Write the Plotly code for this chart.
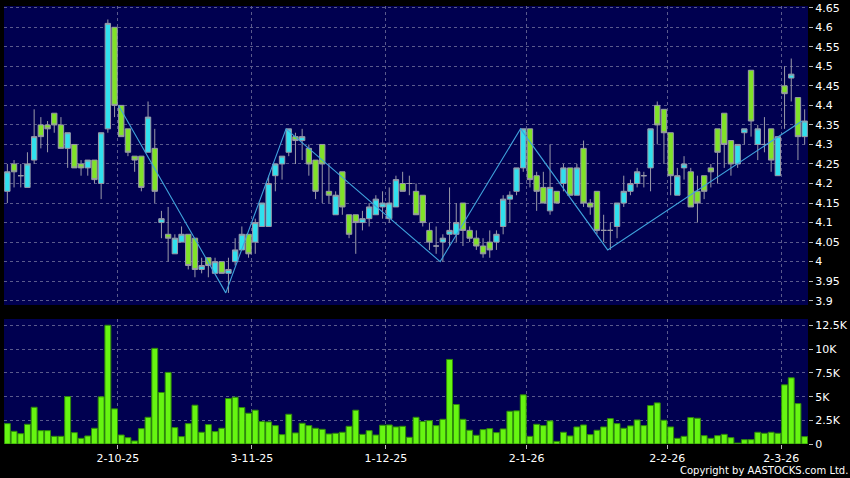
import plotly.graph_objects as go

# ---- data (index = trading day, 0..119) ----
opens = [4.18, 4.25, 4.22, 4.19, 4.26, 4.35, 4.35, 4.38, 4.35, 4.29,
         4.30, 4.25, 4.24, 4.26, 4.20, 4.34, 4.60, 4.40, 4.34, 4.27,
         4.27, 4.28, 4.29, 4.10, 4.07, 4.02, 4.05, 4.07, 4.06, 3.98,
         4.01, 3.97, 4.00, 3.97, 4.00, 4.03, 4.07, 4.05, 4.09, 4.09,
         4.22, 4.25, 4.28, 4.32, 4.31, 4.29, 4.26, 4.30, 4.18, 4.12,
         4.23, 4.12, 4.12, 4.10, 4.11, 4.12, 4.14, 4.11, 4.14, 4.20,
         4.20, 4.18, 4.17, 4.08, 4.04, 4.05, 4.07, 4.07, 4.15, 4.08,
         4.06, 4.04, 4.05, 4.05, 4.09, 4.16, 4.18, 4.24, 4.34, 4.22,
         4.19, 4.13, 4.18, 4.20, 4.24, 4.17, 4.29, 4.15, 4.18, 4.08,
         4.08, 4.09, 4.15, 4.18, 4.20, 4.22, 4.24, 4.40, 4.39, 4.33,
         4.17, 4.24, 4.23, 4.18, 4.22, 4.24, 4.34, 4.38, 4.31, 4.25,
         4.33, 4.49, 4.30, 4.30, 4.34, 4.22, 4.45, 4.47, 4.42, 4.32]
highs = [4.25, 4.26, 4.25, 4.28, 4.39, 4.37, 4.36, 4.38, 4.37, 4.33,
         4.30, 4.26, 4.26, 4.26, 4.33, 4.62, 4.60, 4.40, 4.34, 4.27,
         4.27, 4.41, 4.34, 4.13, 4.14, 4.07, 4.09, 4.07, 4.06, 4.01,
         4.01, 4.01, 4.00, 4.01, 4.06, 4.09, 4.07, 4.11, 4.15, 4.22,
         4.25, 4.27, 4.34, 4.33, 4.34, 4.30, 4.26, 4.30, 4.25, 4.18,
         4.23, 4.12, 4.12, 4.13, 4.15, 4.17, 4.18, 4.19, 4.22, 4.23,
         4.22, 4.20, 4.17, 4.10, 4.09, 4.07, 4.19, 4.15, 4.15, 4.09,
         4.08, 4.06, 4.08, 4.08, 4.17, 4.18, 4.24, 4.34, 4.34, 4.23,
         4.23, 4.30, 4.18, 4.25, 4.24, 4.25, 4.31, 4.16, 4.18, 4.12,
         4.10, 4.15, 4.22, 4.21, 4.24, 4.23, 4.34, 4.41, 4.39, 4.33,
         4.24, 4.27, 4.24, 4.22, 4.22, 4.25, 4.34, 4.38, 4.31, 4.30,
         4.34, 4.49, 4.35, 4.37, 4.34, 4.32, 4.50, 4.52, 4.42, 4.39]
lows = [4.15, 4.19, 4.19, 4.19, 4.25, 4.29, 4.28, 4.33, 4.29, 4.24,
        4.24, 4.22, 4.22, 4.20, 4.16, 4.33, 4.37, 4.32, 4.27, 4.23,
        4.18, 4.28, 4.15, 4.06, 4.00, 4.02, 4.05, 3.98, 3.96, 3.97,
        3.96, 3.97, 3.97, 3.92, 3.99, 4.03, 4.01, 4.02, 4.09, 4.09,
        4.18, 4.21, 4.27, 4.25, 4.26, 4.22, 4.16, 4.15, 4.15, 4.12,
        4.12, 4.06, 4.02, 4.08, 4.09, 4.12, 4.11, 4.10, 4.14, 4.18,
        4.17, 4.12, 4.09, 4.03, 4.02, 4.00, 4.04, 4.05, 4.04, 4.05,
        4.03, 4.01, 4.01, 4.03, 4.07, 4.10, 4.17, 4.23, 4.19, 4.13,
        4.15, 4.12, 4.15, 4.18, 4.17, 4.17, 4.14, 4.12, 4.07, 4.05,
        4.03, 4.06, 4.14, 4.17, 4.19, 4.19, 4.18, 4.30, 4.25, 4.17,
        4.17, 4.21, 4.14, 4.10, 4.16, 4.19, 4.20, 4.24, 4.22, 4.24,
        4.30, 4.32, 4.26, 4.28, 4.23, 4.22, 4.34, 4.41, 4.26, 4.30]
closes = [4.23, 4.23, 4.22, 4.25, 4.32, 4.32, 4.34, 4.35, 4.29, 4.33,
          4.24, 4.24, 4.26, 4.21, 4.33, 4.61, 4.40, 4.32, 4.28, 4.26,
          4.19, 4.37, 4.18, 4.11, 4.06, 4.06, 4.07, 3.99, 3.98, 3.99,
          3.99, 4.00, 3.97, 3.98, 4.03, 4.07, 4.02, 4.10, 4.15, 4.20,
          4.25, 4.27, 4.34, 4.31, 4.32, 4.25, 4.18, 4.25, 4.17, 4.17,
          4.14, 4.07, 4.10, 4.11, 4.14, 4.16, 4.15, 4.15, 4.21, 4.18,
          4.20, 4.12, 4.10, 4.05, 4.04, 4.06, 4.08, 4.10, 4.08, 4.06,
          4.04, 4.02, 4.03, 4.07, 4.16, 4.17, 4.24, 4.34, 4.21, 4.18,
          4.15, 4.19, 4.15, 4.24, 4.17, 4.24, 4.15, 4.14, 4.08, 4.08,
          4.08, 4.15, 4.18, 4.20, 4.23, 4.22, 4.34, 4.35, 4.33, 4.22,
          4.22, 4.25, 4.14, 4.15, 4.18, 4.23, 4.28, 4.30, 4.25, 4.30,
          4.34, 4.36, 4.34, 4.30, 4.26, 4.32, 4.43, 4.48, 4.32, 4.36]
volumes = [2150, 1340, 1090, 2080, 3880, 1410, 1410, 810, 810, 5010,
           1200, 600, 850, 1660, 4980, 12540, 3710, 950, 670, 320,
           1620, 2820, 10100, 5440, 7560, 1730, 780, 2150, 4100, 1240,
           2050, 1310, 1660, 4800, 4940, 3850, 3250, 3570, 2370, 2330,
           1940, 990, 3140, 1170, 2190, 1940, 1660, 1550, 1060, 1130,
           1240, 1870, 3570, 1020, 1410, 950, 1980, 2010, 1800, 1870,
           710, 2820, 2370, 2470, 1940, 2610, 8930, 4170, 2610, 1450,
           920, 1520, 1620, 1200, 1590, 3460, 3500, 5190, 810, 2080,
           1940, 2440, 280, 1240, 850, 1800, 2010, 990, 1450, 1800,
           2680, 2150, 1660, 1910, 2540, 1940, 4060, 4340, 2510, 1800,
           600, 810, 2790, 2720, 880, 600, 880, 1020, 670, 100,
           460, 460, 1240, 1130, 1240, 1130, 6250, 6990, 4270, 780]
day_index = list(range(len(closes)))

date_tick_index = [16, 36, 56, 77, 98, 115]
date_tick_labels = ["2-10-25", "3-11-25", "1-12-25", "2-1-26", "2-2-26", "2-3-26"]

zigzag_index = [17, 33, 42, 65, 77, 90, 119]
zigzag_price = [4.40, 3.92, 4.34, 4.00, 4.34, 4.03, 4.36]

price_ticks = [3.9, 3.95, 4.0, 4.05, 4.1, 4.15, 4.2, 4.25, 4.3, 4.35,
               4.4, 4.45, 4.5, 4.55, 4.6, 4.65]
price_tick_labels = ["3.9", "3.95", "4", "4.05", "4.1", "4.15", "4.2", "4.25",
                     "4.3", "4.35", "4.4", "4.45", "4.5", "4.55", "4.6", "4.65"]
vol_ticks = [0, 2500, 5000, 7500, 10000, 12500]
vol_tick_labels = ["0", "2.5K", "5K", "7.5K", "10K", "12.5K"]

# ---- styles ----
NAVY = "#000050"
GRID = "#5a5a8c"
FONT = dict(family="DejaVu Sans", size=11, color="#ffffff")

fig = go.Figure()

fig.add_trace(go.Candlestick(
    x=day_index, open=opens, high=highs, low=lows, close=closes,
    xaxis="x2", yaxis="y2",
    increasing=dict(fillcolor="#30e0ee", line=dict(color="#9a9aa8", width=1)),
    decreasing=dict(fillcolor="#80e228", line=dict(color="#9a9aa8", width=1)),
    whiskerwidth=0, hoverinfo="skip", showlegend=False,
))

fig.add_trace(go.Scatter(
    x=[i - 0.4 for i in zigzag_index], y=zigzag_price,
    xaxis="x2", yaxis="y2", mode="lines",
    line=dict(color="#3fa2dc", width=1.1),
    hoverinfo="skip", showlegend=False,
))

fig.add_trace(go.Bar(
    x=day_index, y=volumes, xaxis="x", yaxis="y",
    marker=dict(color="#66f511", line=dict(color="#2f8a0a", width=1)),
    hoverinfo="skip", showlegend=False,
))

grid_x = [t + 0.5 for t in date_tick_index]
xrange = [-0.5, len(closes) - 0.5]

fig.update_layout(
    width=850, height=478,
    margin=dict(l=4, r=42, t=6, b=34, autoexpand=False),
    paper_bgcolor="#000000", plot_bgcolor=NAVY,
    font=FONT, bargap=0.12, boxgap=0.2, boxgroupgap=0,
    xaxis=dict(domain=[0, 1], anchor="y", range=xrange,
               tickmode="array", tickvals=grid_x, ticktext=date_tick_labels,
               showgrid=True, gridcolor=GRID, griddash="3px,3px", gridwidth=1,
               ticks="outside", ticklen=4, tickcolor="#bbbbbb",
               tickfont=FONT, zeroline=False, showline=False, fixedrange=True),
    xaxis2=dict(domain=[0, 1], anchor="y2", range=xrange, matches="x",
                tickmode="array", tickvals=grid_x, showticklabels=False,
                showgrid=True, gridcolor=GRID, griddash="3px,3px", gridwidth=1,
                ticks="", zeroline=False, showline=False,
                rangeslider=dict(visible=False)),
    yaxis=dict(domain=[0, 0.2854], anchor="x", side="right", range=[0, 13200],
               tickmode="array", tickvals=vol_ticks, ticktext=vol_tick_labels,
               showgrid=True, gridcolor=GRID, griddash="3px,3px", gridwidth=1,
               ticks="outside", ticklen=4, tickcolor="#bbbbbb",
               tickfont=FONT, zeroline=False, showline=False),
    yaxis2=dict(domain=[0.3174, 1], anchor="x2", side="right", range=[3.889, 4.6545],
                tickmode="array", tickvals=price_ticks, ticktext=price_tick_labels,
                showgrid=True, gridcolor=GRID, griddash="3px,3px", gridwidth=1,
                ticks="outside", ticklen=4, tickcolor="#bbbbbb",
                tickfont=FONT, zeroline=False, showline=False),
    annotations=[dict(text="Copyright by AASTOCKS.com Ltd.", xref="paper", yref="paper",
                      x=1.0517, y=-0.06, xanchor="right", yanchor="middle",
                      showarrow=False, font=dict(family="DejaVu Sans", size=10, color="#ffffff"))],
)

fig.write_html("out.html", config={"displayModeBar": False},
               post_script="document.body.style.margin='0';document.body.style.background='#000';")
